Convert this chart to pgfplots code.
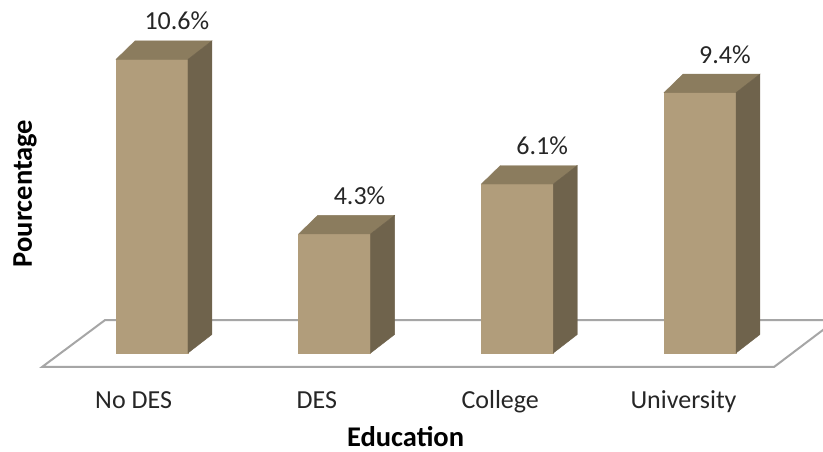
\documentclass[border=0pt]{standalone}
\usepackage{fontspec}
\setmainfont{Carlito}
\usepackage{pgfplots}
\pgfplotsset{compat=1.18}
\usepackage{pgfplotstable}

\definecolor{barfront}{RGB}{177,157,123}
\definecolor{bartop}{RGB}{139,124,94}
\definecolor{barside}{RGB}{111,99,76}
\definecolor{floorline}{RGB}{166,166,166}

% share of each education level
\pgfplotstableread[col sep=comma]{
education,value
No DES,10.6
DES,4.3
College,6.1
University,9.4
}\edudata

% bar geometry (axis units)
\def\hw{0.197}   % half width of the front face
\def\dxl{0.104}  % depth offset, left back edge
\def\dxr{0.131}  % depth offset, right back edge
\def\dy{0.668}   % depth offset, vertical

\tikzset{lbl/.style={anchor=base, text=black!85, font=\fontsize{26bp}{30bp}\selectfont}}

\begin{document}
\begin{tikzpicture}
\useasboundingbox (0,0) rectangle (823bp,452bp);
\begin{axis}[
  anchor=south west, at={(0,0)},
  x=182.67bp, y=27.7bp,
  xmin=-0.8321, xmax=3.6733, ymin=-3.574, ymax=12.744,
  hide axis, clip=true,
]
% floor
\addplot[draw=floorline, line width=2bp, fill=white, line join=miter]
  coordinates {(-0.602,-0.505) (3.405,-0.505) (3.745,1.19) (-0.257,1.19)} -- cycle;

\pgfplotsforeachungrouped \i in {0,...,3}{%
  \pgfplotstablegetelem{\i}{value}\of\edudata
  \let\v\pgfplotsretval
  \pgfplotstablegetelem{\i}{education}\of\edudata
  \let\name\pgfplotsretval
  \pgfmathsetmacro\xl{\i-\hw}
  \pgfmathsetmacro\xr{\i+\hw}
  \pgfmathsetmacro\xbl{\i-\hw+\dxl}
  \pgfmathsetmacro\xbr{\i+\hw+\dxr}
  \pgfmathsetmacro\yt{\v+\dy}
  \pgfmathsetmacro\xlab{\i+0.136}
  \pgfmathsetmacro\ylab{\v+\dy+0.40}
  \pgfmathsetmacro\xcat{\i*1.0034-0.1006}
  \edef\drawbar{%
    \noexpand\addplot[fill=barfront, draw=barfront, line width=0.4bp]
      coordinates {(\xl,0) (\xl,\v) (\xr,\v) (\xr,0)} -- cycle;
    \noexpand\addplot[fill=bartop, draw=bartop, line width=0.4bp]
      coordinates {(\xl,\v) (\xbl,\yt) (\xbr,\yt) (\xr,\v)} -- cycle;
    \noexpand\addplot[fill=barside, draw=barside, line width=0.4bp]
      coordinates {(\xr,0) (\xbr,\dy) (\xbr,\yt) (\xr,\v)} -- cycle;
    \noexpand\node[lbl] at (axis cs:\xlab,\ylab) {\v\noexpand\%};
    \noexpand\node[lbl] at (axis cs:\xcat,-1.986) {\name};
  }%
  \drawbar
}

\node[anchor=base, inner sep=0pt, font=\fontsize{28.5bp}{32bp}\selectfont\bfseries]
  at (axis cs:1.388,-3.36) {Education};
\node[anchor=base, rotate=90, font=\fontsize{28.5bp}{32bp}\selectfont\bfseries]
  at (axis cs:-0.657,5.758) {Pourcentage};
\end{axis}
\end{tikzpicture}
\end{document}
